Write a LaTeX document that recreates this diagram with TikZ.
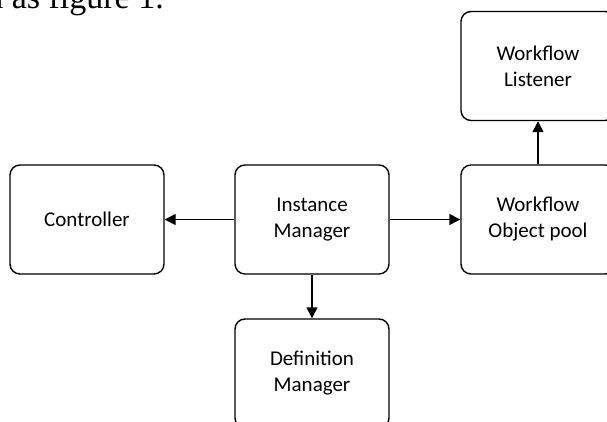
\documentclass[tikz,border=0pt]{standalone}
\usepackage{fontspec}
\setmainfont{Liberation Serif}
\newfontfamily\kotakfont{Carlito}
\usetikzlibrary{arrows.meta}
\tikzset{
  kotak/.style={draw,line width=1.4pt,rounded corners=10pt,minimum width=154pt,
    minimum height=109pt,inner sep=0pt,align=center,font=\kotakfont\fontsize{21}{26}\selectfont},
  panah/.style={line width=1.4pt,-{Triangle[length=11pt,width=11pt]}}
}

\begin{document}
\begin{tikzpicture}[x=1pt,y=-1pt]
  \useasboundingbox (0,0) rectangle (607,421);
  \clip (0,0) rectangle (607,421);

  \coordinate (C) at (87,219.5);
  \coordinate (I) at (312,219.5);
  \coordinate (P) at (538,219.5);
  \coordinate (L) at (538,66);
  \coordinate (D) at (312,373.5);

  \node[anchor=base east,font=\fontsize{34}{40}\selectfont,inner sep=0pt] (teks) at (164,8) {shown as figure 1.};

  \node[kotak] (ctrl) at (C) {Controller};
  \node[kotak] (inst) at (I) {Instance\\Manager};
  \node[kotak] (pool) at (P) {Workflow\\Object pool};
  \node[kotak] (lst)  at (L) {Workflow\\Listener};
  \node[kotak] (defn) at (D) {Definition\\Manager};

  \draw[panah] (inst.west)  -- (ctrl.east);
  \draw[panah] (inst.east)  -- (pool.west);
  \draw[panah] (inst.south) -- (defn.north);
  \draw[panah] (pool.north) -- (lst.south);
\end{tikzpicture}
\end{document}
